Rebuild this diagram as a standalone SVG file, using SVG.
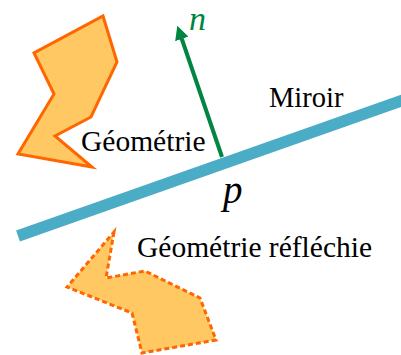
<svg xmlns="http://www.w3.org/2000/svg" width="401" height="355" viewBox="0 0 401 355">
<style>
.shape{fill:#FFC862;stroke:#FF6600;stroke-width:3;stroke-linejoin:miter}
.dash{stroke-dasharray:5 3}
.lbl{font-family:"Liberation Serif","Times New Roman",serif;font-size:29.5px;fill:#000}
.math{font-family:"Liberation Serif","Times New Roman",serif;font-style:italic;font-size:34px}
</style>
<defs>
<marker id="ah" viewBox="0 0 14 14" refX="1" refY="7" markerWidth="14" markerHeight="14" markerUnits="userSpaceOnUse" orient="auto">
<path d="M0,0 L14,7 L0,14 Z" fill="#008542"/>
</marker>
</defs>
<g id="mirror">
<line x1="18" y1="236" x2="405" y2="99.5" stroke="#4BACC6" stroke-width="11.5"/>
</g>
<g id="geometry">
<polygon class="shape" points="103,16 117,62 91,117 55,136 92,167 18,154 54,94 34,53"/>
</g>
<g id="reflected">
<polygon class="shape dash" points="114,232 106,278 145,271 200,298 216,340 142,353 132,313 67,287"/>
</g>
<g id="connectors">
<line x1="222" y1="157" x2="181.5" y2="38" stroke="#008542" stroke-width="4" marker-end="url(#ah)"/>
</g>
<g id="labels">
<text class="lbl" x="81" y="151">Géométrie</text>
<text class="lbl" x="269" y="107" style="font-size:28.5px">Miroir</text>
<text class="lbl" x="137" y="257">Géométrie réfléchie</text>
<text class="math" x="189" y="30" fill="#008542">n</text>
<text class="math" x="223" y="203" fill="#000" style="font-size:39px">p</text>
</g>
</svg>
